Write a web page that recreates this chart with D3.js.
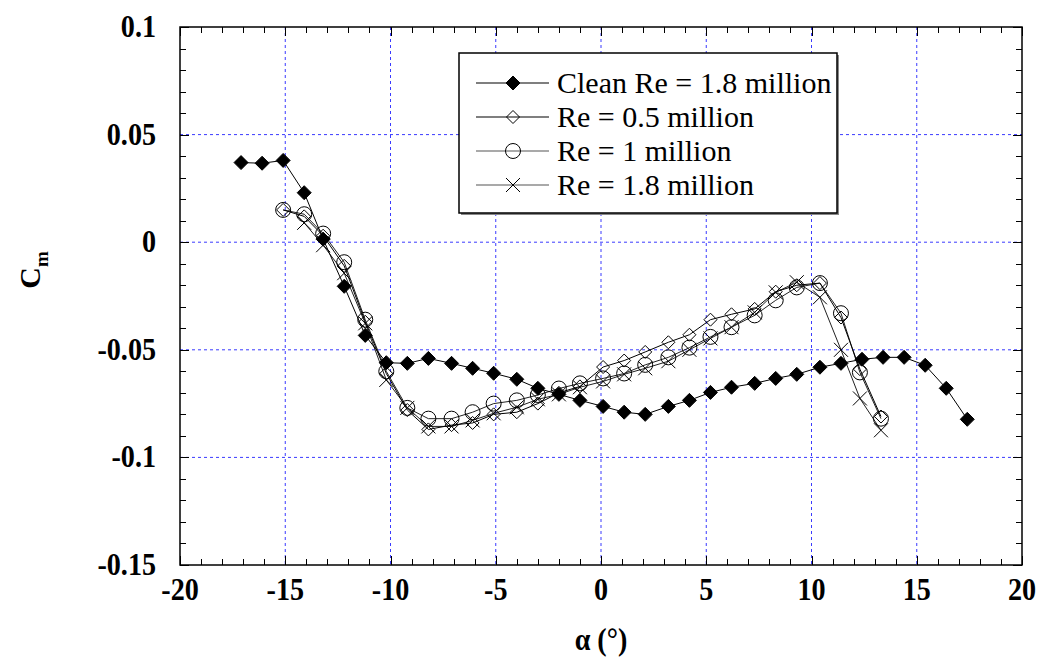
<!DOCTYPE html>
<html>
<head>
<meta charset="utf-8">
<script src="https://cdn.jsdelivr.net/npm/d3@7"></script>
<style>
  html, body { margin: 0; padding: 0; background: #fff; }
  svg { display: block; }
  text { font-family: "Liberation Serif", "Times New Roman", serif; }
</style>
</head>
<body>
<svg id="chart" width="1044" height="661"></svg>
<script>
// Pitching moment coefficient vs angle of attack
const xTicks = [-20, -15, -10, -5, 0, 5, 10, 15, 20];
const yTicks = [-0.15, -0.1, -0.05, 0, 0.05, 0.1];
const yTickLabels = ["-0.15", "-0.1", "-0.05", "0", "0.05", "0.1"];

const seriesNames = ["Clean Re = 1.8 million", "Re = 0.5 million", "Re = 1 million", "Re = 1.8 million"];

const alphaClean = [-17.1, -16.1, -15.1, -14.1, -13.2, -12.2, -11.2, -10.2, -9.2, -8.2, -7.1, -6.1, -5.1, -4.0, -3.0, -2.0, -1.0, 0.1, 1.1, 2.1, 3.2, 4.2, 5.2, 6.2, 7.3, 8.3, 9.3, 10.4, 11.4, 12.4, 13.4, 14.4, 15.4, 16.4, 17.4];
const cmClean = [0.037, 0.0367, 0.038, 0.023, 0.0014, -0.0205, -0.0433, -0.056, -0.0563, -0.054, -0.0563, -0.0586, -0.0609, -0.0637, -0.0679, -0.0707, -0.0735, -0.0763, -0.079, -0.080, -0.0763, -0.0735, -0.0698, -0.0674, -0.0656, -0.0633, -0.0614, -0.0581, -0.0563, -0.0544, -0.0535, -0.0535, -0.0572, -0.0679, -0.0823];

const alphaRe05 = [-15.1, -14.1, -13.2, -12.2, -11.2, -10.2, -9.2, -8.2, -7.1, -6.1, -5.1, -4.0, -3.0, -2.0, -1.0, 0.1, 1.1, 2.1, 3.2, 4.2, 5.2, 6.2, 7.3, 8.3, 9.3, 10.4, 11.4, 12.3, 13.3];
const cmRe05 = [0.015, 0.012, 0.003, -0.011, -0.037, -0.061, -0.078, -0.087, -0.085, -0.084, -0.080, -0.079, -0.075, -0.070, -0.067, -0.058, -0.055, -0.051, -0.0465, -0.043, -0.036, -0.0335, -0.031, -0.023, -0.020, -0.019, -0.035, -0.059, -0.081];

const alphaRe1 = [-15.1, -14.1, -13.2, -12.2, -11.2, -10.2, -9.2, -8.2, -7.1, -6.1, -5.1, -4.0, -3.0, -2.0, -1.0, 0.1, 1.1, 2.1, 3.2, 4.2, 5.2, 6.2, 7.3, 8.3, 9.3, 10.4, 11.4, 12.3, 13.3];
const cmRe1 = [0.015, 0.013, 0.004, -0.0093, -0.036, -0.060, -0.077, -0.082, -0.082, -0.079, -0.075, -0.0735, -0.071, -0.068, -0.0656, -0.0633, -0.061, -0.057, -0.0535, -0.049, -0.044, -0.0395, -0.034, -0.027, -0.021, -0.019, -0.033, -0.0605, -0.082];

const alphaRe18 = [-14.1, -13.2, -12.2, -11.2, -10.2, -9.2, -8.2, -7.1, -6.1, -5.1, -4.0, -3.0, -2.0, -1.0, 0.1, 1.1, 2.1, 3.2, 4.2, 5.2, 6.2, 7.3, 8.3, 9.3, 10.4, 11.4, 12.3, 13.3];
const cmRe18 = [0.009, -0.0014, -0.0144, -0.0377, -0.064, -0.077, -0.0856, -0.0856, -0.0828, -0.0795, -0.0767, -0.073, -0.0707, -0.0674, -0.0647, -0.0614, -0.0586, -0.0553, -0.050, -0.0447, -0.0395, -0.0326, -0.0233, -0.0186, -0.0256, -0.050, -0.0726, -0.0874];

const svg = d3.select("#chart");
const W = 1044, H = 661;
const plot = { left: 180, right: 1022, top: 27, bottom: 565 };

const x = d3.scaleLinear().domain([-20, 20]).range([plot.left, plot.right]);
const y = d3.scaleLinear().domain([-0.15, 0.1]).range([plot.bottom, plot.top]);

svg.append("rect").attr("width", W).attr("height", H).attr("fill", "#fff");

// dashed blue grid at the major ticks
const grid = svg.append("g").attr("stroke", "#3a3aff").attr("stroke-width", 1).attr("stroke-dasharray", "3,3");
xTicks.slice(1, -1).forEach(t => {
  grid.append("line").attr("x1", x(t)).attr("x2", x(t)).attr("y1", plot.top).attr("y2", plot.bottom);
});
yTicks.slice(1, -1).forEach(t => {
  grid.append("line").attr("x1", plot.left).attr("x2", plot.right).attr("y1", y(t)).attr("y2", y(t));
});

// inward ticks on all four sides
const minorX = d3.range(-20, 20.001, 1);
const minorY = d3.range(-0.15, 0.1001, 0.01);
const tickG = svg.append("g").attr("stroke", "#000").attr("stroke-width", 1);
minorX.forEach(v => {
  const major = Math.abs(v % 5) < 1e-9;
  const len = major ? 9 : 6;
  const px = Math.round(x(v)) + 0.5;
  tickG.append("line").attr("x1", px).attr("x2", px).attr("y1", plot.bottom).attr("y2", plot.bottom - len);
  tickG.append("line").attr("x1", px).attr("x2", px).attr("y1", plot.top).attr("y2", plot.top + len);
});
minorY.forEach(v => {
  const k = Math.round(v * 100);
  const major = k % 5 === 0;
  const len = major ? 9 : 6;
  const py = Math.round(y(k / 100)) + 0.5;
  tickG.append("line").attr("x1", plot.left).attr("x2", plot.left + len).attr("y1", py).attr("y2", py);
  tickG.append("line").attr("x1", plot.right).attr("x2", plot.right - len).attr("y1", py).attr("y2", py);
});

// frame
svg.append("rect")
  .attr("x", plot.left).attr("y", plot.top)
  .attr("width", plot.right - plot.left).attr("height", plot.bottom - plot.top)
  .attr("fill", "none").attr("stroke", "#000").attr("stroke-width", 1.5);

// tick labels (bold, slightly tall)
const lab = svg.append("g").attr("font-weight", "bold").attr("font-size", 29).attr("fill", "#000");
xTicks.forEach(t => {
  lab.append("text")
    .attr("transform", `translate(${x(t)},600) scale(0.97,1.1)`)
    .attr("text-anchor", "middle").text(String(t));
});
yTicks.forEach((t, i) => {
  lab.append("text")
    .attr("transform", `translate(156,${y(t) + 10}) scale(0.97,1.1)`)
    .attr("text-anchor", "end").text(yTickLabels[i]);
});

// axis titles
svg.append("text").attr("transform", "translate(601,650) scale(0.97,1.1)").attr("text-anchor", "middle")
  .attr("font-size", 29).attr("font-weight", "bold").text("α (°)");
const yt = svg.append("text").attr("transform", "translate(40,270) rotate(-90)")
  .attr("text-anchor", "middle").attr("font-size", 30).attr("font-weight", "bold");
yt.append("tspan").text("C");
yt.append("tspan").attr("font-size", 19).attr("dy", 8).text("m");

// marker shapes
function drawMarker(g, kind, cx, cy) {
  if (kind === "filledDiamond") {
    const r = 7;
    g.append("path").attr("d", `M${cx},${cy - r}L${cx + r},${cy}L${cx},${cy + r}L${cx - r},${cy}Z`)
      .attr("fill", "#000").attr("stroke", "#000").attr("stroke-width", 1);
  } else if (kind === "openDiamond") {
    const r = 6.5;
    g.append("path").attr("d", `M${cx},${cy - r}L${cx + r},${cy}L${cx},${cy + r}L${cx - r},${cy}Z`)
      .attr("fill", "none").attr("stroke", "#000").attr("stroke-width", 1);
  } else if (kind === "circle") {
    g.append("circle").attr("cx", cx).attr("cy", cy).attr("r", 7.5)
      .attr("fill", "none").attr("stroke", "#000").attr("stroke-width", 1);
  } else if (kind === "cross") {
    const r = 7;
    g.append("path").attr("d", `M${cx - r},${cy - r}L${cx + r},${cy + r}M${cx - r},${cy + r}L${cx + r},${cy - r}`)
      .attr("fill", "none").attr("stroke", "#000").attr("stroke-width", 1);
  }
}

const series = [
  { name: seriesNames[0], a: alphaClean, c: cmClean, kind: "filledDiamond", line: "#000" },
  { name: seriesNames[1], a: alphaRe05, c: cmRe05, kind: "openDiamond", line: "#000" },
  { name: seriesNames[2], a: alphaRe1, c: cmRe1, kind: "circle", line: "#222" },
  { name: seriesNames[3], a: alphaRe18, c: cmRe18, kind: "cross", line: "#222" }
];

const line = d3.line().x(d => x(d[0])).y(d => y(d[1]));
const dataG = svg.append("g");
series.slice().reverse().forEach(s => {
  const pts = s.a.map((a, i) => [a, s.c[i]]);
  dataG.append("path").attr("d", line(pts)).attr("fill", "none")
    .attr("stroke", s.line).attr("stroke-width", 1);
  const mg = dataG.append("g");
  pts.forEach(p => drawMarker(mg, s.kind, x(p[0]), y(p[1])));
});

// legend
const lg = svg.append("g");
lg.append("rect").attr("x", 461).attr("y", 55).attr("width", 378).attr("height", 160).attr("fill", "#888");
lg.append("rect").attr("x", 459).attr("y", 53).attr("width", 378).attr("height", 160)
  .attr("fill", "#fff").attr("stroke", "#000").attr("stroke-width", 1.5);
const legendLine = ["#000", "#000", "#555", "#555"];
series.forEach((s, i) => {
  const cy = 83 + i * 34;
  lg.append("line").attr("x1", 476).attr("x2", 549).attr("y1", cy).attr("y2", cy)
    .attr("stroke", legendLine[i]).attr("stroke-width", 1.2);
  drawMarker(lg, s.kind, 513, cy);
  lg.append("text").attr("x", 557).attr("y", cy + 10).attr("font-size", 30).attr("fill", "#000").text(s.name);
});
</script>
</body>
</html>
